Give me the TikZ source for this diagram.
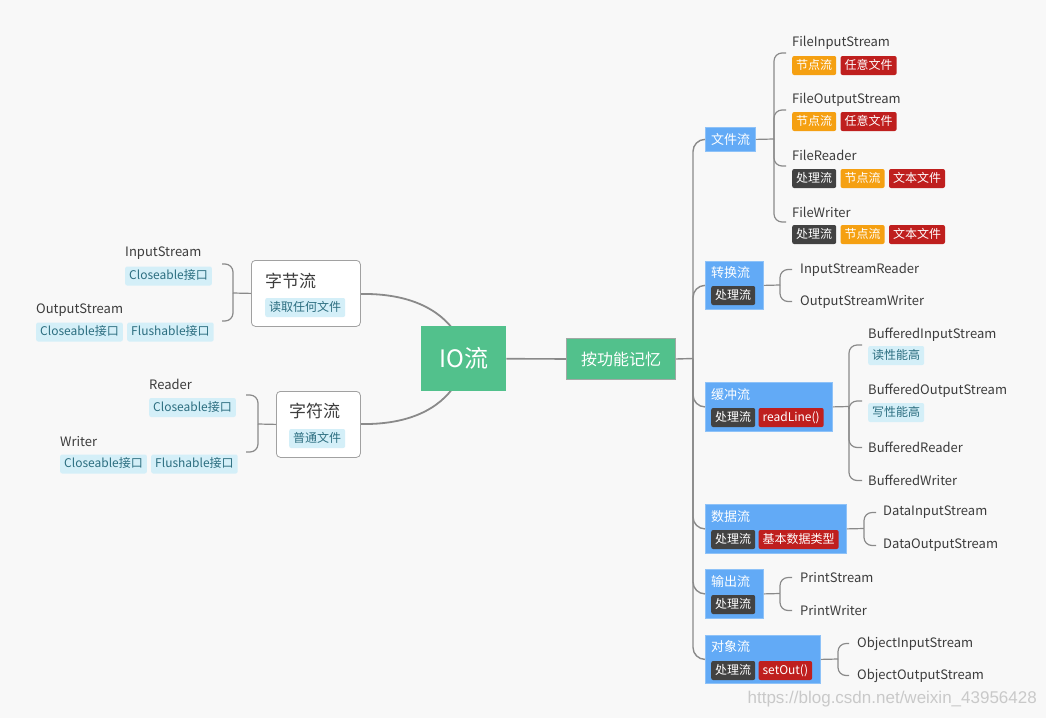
\documentclass[tikz,border=0pt]{standalone}
\usepackage{fontspec}
\setmainfont{Noto Sans CJK SC}
\newfontfamily\wmfont{Liberation Sans}
\usetikzlibrary{positioning}
\definecolor{bgc}{HTML}{F8F8F8}
\definecolor{greenc}{HTML}{52C18C}
\definecolor{greenbd}{HTML}{A0A8A4}
\definecolor{bluec}{HTML}{62AAF6}
\definecolor{bluebd}{HTML}{8EC2F8}
\definecolor{linec}{HTML}{8A8A8A}
\definecolor{txtc}{HTML}{3C3C3C}
\definecolor{tagblue}{HTML}{D4EFF8}
\definecolor{tagbluetxt}{HTML}{2C6E80}
\definecolor{tagor}{HTML}{F5A012}
\definecolor{tagrd}{HTML}{BF1F1E}
\definecolor{tagdk}{HTML}{424242}
\definecolor{wmc}{HTML}{C9C9C9}
\begin{document}
\begin{tikzpicture}[x=1pt,y=-1pt,
  conn/.style={draw=linec, line width=1.2pt, rounded corners=8pt},
  trunk/.style={draw=linec, line width=1.4pt, rounded corners=12pt},
  rootconn/.style={draw=linec, line width=1.8pt},
  lbl/.style={anchor=west, inner sep=0pt, yshift=-1.5pt, font=\fontsize{13}{15}\selectfont, text=txtc},
  tag/.style={anchor=west, rounded corners=2pt, inner xsep=4pt, inner ysep=0pt, minimum height=19pt, text height=9.5pt, text depth=2.5pt, font=\fontsize{12}{14}\selectfont},
  taglb/.style={tag, fill=tagblue, text=tagbluetxt},
  tagorg/.style={tag, fill=tagor, text=white},
  tagred/.style={tag, fill=tagrd, text=white},
  tagdrk/.style={tag, fill=tagdk, text=white},
  wbox/.style={draw=linec!80, fill=white, rounded corners=4pt, line width=0.8pt, anchor=north west, inner sep=0pt},
  wtitle/.style={anchor=west, inner sep=0pt, font=\fontsize{17}{19}\selectfont, text=txtc},
  bbox/.style={draw=bluebd, fill=bluec, line width=0.8pt, anchor=north west, inner sep=0pt},
  btitle/.style={anchor=west, inner sep=0pt, yshift=-0.5pt, font=\fontsize{13}{15}\selectfont, text=white},
]
\useasboundingbox (0,0) rectangle (1046,718);
\fill[bgc] (0,0) rectangle (1046,718);

% ---------- root curves (behind boxes)
\coordinate (rcTop) at (455,332);
\coordinate (rcBot) at (455,385);
\draw[rootconn] (360,294) .. controls (410,293) and (440,310) .. (rcTop);
\draw[rootconn] (360,424) .. controls (410,425) and (440,408) .. (rcBot);

% ---------- root and function node
\node[fill=greenc, anchor=north west, minimum width=85pt, minimum height=65pt, inner sep=0pt, text=white, font=\fontsize{24}{26}\selectfont] (root) at (421,326) {IO流};
\node[fill=greenc, draw=greenbd, line width=1pt, anchor=north west, minimum width=109pt, minimum height=41pt, inner sep=0pt] (func) at (566,338) {};
\node[inner sep=0pt, text=white, font=\fontsize{16}{18}\selectfont] (functxt) at (func.center) {按功能记忆};
\draw[rootconn, line width=1.6pt] (root.east) -- (func.west);

% ---------- left: byte stream
\node[wbox, minimum width=109pt, minimum height=66pt] (zj) at (251,260) {};
\node[wtitle] (zjt) at (265,281) {字节流};
\node[taglb] (zjtag) at (265,307.5) {读取任何文件};

\node[lbl] (is) at (125,252) {InputStream};
\node[taglb] (istag) at (125,276) {Closeable接口};
\node[lbl] (os) at (36,309) {OutputStream};
\node[taglb] (ostag1) at (36,332) {Closeable接口};
\node[taglb, right=4pt of ostag1] (ostag2) {Flushable接口};

\coordinate (jB) at (233,293);
\coordinate (eIS) at (222,264);
\coordinate (eOS) at (222,321);
\draw[conn] (zj.west) -- (jB);
\draw[conn] (jB) |- (eIS);
\draw[conn] (jB) |- (eOS);

% ---------- left: char stream
\node[wbox, minimum width=84pt, minimum height=66pt] (zf) at (276,391) {};
\node[wtitle] (zft) at (289,411) {字符流};
\node[taglb] (zftag) at (289,438.5) {普通文件};

\node[lbl] (rd) at (149,383) {Reader};
\node[taglb] (rdtag) at (149,407.5) {Closeable接口};
\node[lbl] (wr) at (60,440) {Writer};
\node[taglb] (wrtag1) at (60,464) {Closeable接口};
\node[taglb, right=4pt of wrtag1] (wrtag2) {Flushable接口};

\coordinate (jC) at (258,424);
\coordinate (eRD) at (246,395);
\coordinate (eWR) at (246,452);
\draw[conn] (zf.west) -- (jC);
\draw[conn] (jC) |- (eRD);
\draw[conn] (jC) |- (eWR);

% ---------- right: category boxes
\node[bbox, minimum width=50pt, minimum height=24pt] (wj) at (705,127) {};
\node[btitle] at (711,139) {文件流};

\node[bbox, minimum width=58pt, minimum height=48pt] (zh) at (705,261) {};
\node[btitle] at (711,272) {转换流};
\node[tagdrk] at (711,295.5) {处理流};

\node[bbox, minimum width=127pt, minimum height=49pt] (hc) at (705,382) {};
\node[btitle] at (711,394) {缓冲流};
\node[tagdrk] (hctag1) at (711,417.5) {处理流};
\node[tagred, right=3pt of hctag1] {readLine()};

\node[bbox, minimum width=141pt, minimum height=49pt] (sj) at (705,504) {};
\node[btitle] at (711,516) {数据流};
\node[tagdrk] (sjtag1) at (711,539.5) {处理流};
\node[tagred, right=3pt of sjtag1] {基本数据类型};

\node[bbox, minimum width=58pt, minimum height=49pt] (sc) at (705,569) {};
\node[btitle] at (711,581) {输出流};
\node[tagdrk] at (711,604.5) {处理流};

\node[bbox, minimum width=115pt, minimum height=48pt] (dx) at (705,635) {};
\node[btitle] at (711,646) {对象流};
\node[tagdrk] (dxtag1) at (711,670.5) {处理流};
\node[tagred, right=3pt of dxtag1] {setOut()};

% trunk
\coordinate (j0) at (693,358.5);
\draw[trunk] (func.east) -- (j0);
\foreach \b in {wj,zh,hc,sj,sc,dx} \draw[trunk] (j0) |- (\b.west);

% ---------- file streams
\node[lbl] (fis) at (792,41) {FileInputStream};
\node[tagorg] (fist1) at (792,65.5) {节点流};
\node[tagred, right=4pt of fist1] {任意文件};
\node[lbl] (fos) at (792,98) {FileOutputStream};
\node[tagorg] (fost1) at (792,121.5) {节点流};
\node[tagred, right=4pt of fost1] {任意文件};
\node[lbl] (fr) at (792,154) {FileReader};
\node[tagdrk] (frt1) at (792,178.5) {处理流};
\node[tagorg, right=4pt of frt1] (frt2) {节点流};
\node[tagred, right=4pt of frt2] {文本文件};
\node[lbl] (fw) at (792,211) {FileWriter};
\node[tagdrk] (fwt1) at (792,234.5) {处理流};
\node[tagorg, right=4pt of fwt1] (fwt2) {节点流};
\node[tagred, right=4pt of fwt2] {文本文件};

\coordinate (jW) at (774,139);
\draw[conn] (wj.east) -- (jW);
\foreach \y in {53,110,166,222} \draw[conn] (jW) |- (786,\y);

% ---------- conversion streams
\node[lbl] (isr) at (800,268) {InputStreamReader};
\node[lbl] (osw) at (800,300) {OutputStreamWriter};
\coordinate (jZ) at (780,285);
\draw[conn] (zh.east) -- (jZ);
\draw[conn] (jZ) |- ([xshift=-8pt]isr.west);
\draw[conn] (jZ) |- ([xshift=-8pt]osw.west);

% ---------- buffered streams
\node[lbl] (bis) at (868,333) {BufferedInputStream};
\node[taglb] at (868,355.5) {读性能高};
\node[lbl] (bos) at (868,389) {BufferedOutputStream};
\node[taglb] at (868,412.5) {写性能高};
\node[lbl] (br) at (868,446) {BufferedReader};
\node[lbl] (bw) at (868,479) {BufferedWriter};
\coordinate (jH) at (849,406.5);
\draw[conn] (hc.east) -- (jH);
\draw[conn] (jH) |- (862,345);
\draw[conn] (jH) |- (862,401);
\draw[conn] (jH) |- ([xshift=-6pt]br.west);
\draw[conn] (jH) |- ([xshift=-6pt]bw.west);

% ---------- data streams
\node[lbl] (dis) at (883,511) {DataInputStream};
\node[lbl] (dos) at (883,544) {DataOutputStream};
\coordinate (jS) at (864,528.5);
\draw[conn] (sj.east) -- (jS);
\draw[conn] (jS) |- ([xshift=-7pt]dis.west);
\draw[conn] (jS) |- ([xshift=-7pt]dos.west);

% ---------- print streams
\node[lbl] (ps) at (800,576) {PrintStream};
\node[lbl] (pw) at (800,609) {PrintWriter};
\coordinate (jO) at (780,593.5);
\draw[conn] (sc.east) -- (jO);
\draw[conn] (jO) |- ([xshift=-8pt]ps.west);
\draw[conn] (jO) |- ([xshift=-8pt]pw.west);

% ---------- object streams
\node[lbl] (ois) at (857,642) {ObjectInputStream};
\node[lbl] (oos) at (857,674) {ObjectOutputStream};
\coordinate (jD) at (838,659);
\draw[conn] (dx.east) -- (jD);
\draw[conn] (jD) |- ([xshift=-8pt]ois.west);
\draw[conn] (jD) |- ([xshift=-8pt]oos.west);

% ---------- watermark
\node[anchor=east, inner sep=0pt, text=wmc, font=\wmfont\fontsize{17}{19}\selectfont] (wm) at (1037,699) {https://blog.csdn.net/weixin\_43956428};
\end{tikzpicture}
\end{document}
